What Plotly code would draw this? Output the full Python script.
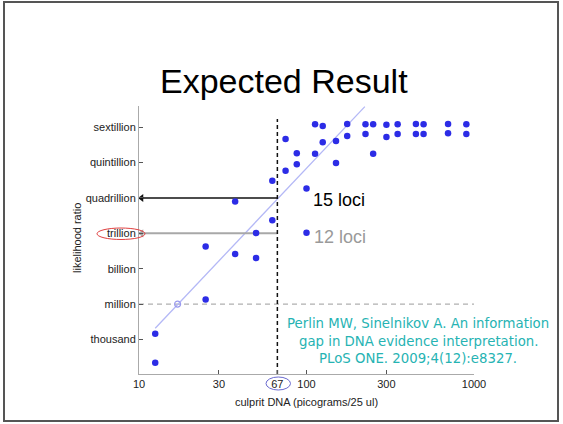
import plotly.graph_objects as go

# ---------------- data ----------------
dna_pg = [12.5, 12.5, 25, 25, 37.5, 37.5, 50, 50, 62.5, 62.5, 75, 75, 87.5, 87.5,
          100, 100, 112.5, 112.5, 125, 125, 150, 150, 175, 175, 225, 225, 250, 250,
          300, 300, 350, 350, 450, 450, 500, 500, 700, 700, 900, 900]
lr_log10 = [3.48, 1.03, 6.39, 10.88, 14.69, 10.24, 12.02, 9.90, 13.10, 16.45,
            20.01, 17.30, 18.80, 17.86, 15.80, 12.04, 21.25, 18.74, 21.11, 19.73,
            19.84, 17.97, 21.28, 20.26, 21.25, 20.43, 21.25, 18.74, 21.22, 20.18,
            21.25, 20.43, 21.28, 20.43, 21.25, 20.43, 21.28, 20.49, 21.25, 20.43]

fit_x = [12.5, 223]
fit_log10 = [3.95, 22.75]
cross_x = [17.0]
cross_log10 = [6.0]

threshold_x = 67
loci15_log10 = 15
loci12_log10 = 12
million_log10 = 6

x_tick_vals = [10, 30, 67, 100, 300, 1000]
x_tick_text = ["10", "30", "67", "100", "300", "1000"]
y_tick_exp = [3, 6, 9, 12, 15, 18, 21]
y_tick_text = ["thousand", "million", "billion", "trillion", "quadrillion",
               "quintillion", "sextillion"]

x_range_log = [1, 3]
y_range_log = [0.07, 22.8]

# ---------------- figure ----------------
W, H = 563, 424
L, R, T, B = 139, 89, 106, 50
pw, ph = W - L - R, H - T - B


def px(xp):
    return (xp - L) / pw


def py(yp):
    return (H - B - yp) / ph


def p10(v):
    return 10.0 ** v


FONT = "Liberation Sans, Arial, Helvetica, sans-serif"
CITE_FONT = "DejaVu Sans, Verdana, sans-serif"

fig = go.Figure()

# million dashed line
fig.add_trace(go.Scatter(x=[10, 1000], y=[p10(million_log10)] * 2, mode="lines",
                         line=dict(color="#b0b0b0", width=1.2, dash="5px,4px"),
                         hoverinfo="skip", showlegend=False))

# regression line
fig.add_trace(go.Scatter(x=fit_x, y=[p10(v) for v in fit_log10], mode="lines",
                         line=dict(color="#b4b8f6", width=1.3),
                         hoverinfo="skip", showlegend=False, cliponaxis=False))

# 12 loci gray line with arrow
fig.add_trace(go.Scatter(x=[10, threshold_x], y=[p10(loci12_log10)] * 2, mode="lines",
                         line=dict(color="#a8a8a8", width=2),
                         hoverinfo="skip", showlegend=False))
fig.add_trace(go.Scatter(x=[10.35], y=[p10(loci12_log10)], mode="markers",
                         marker=dict(symbol="triangle-left", size=7, color="#a8a8a8"),
                         hoverinfo="skip", showlegend=False, cliponaxis=False))

# 15 loci black line with arrow
fig.add_trace(go.Scatter(x=[10, threshold_x], y=[p10(loci15_log10)] * 2, mode="lines",
                         line=dict(color="#111111", width=1.4),
                         hoverinfo="skip", showlegend=False))
fig.add_trace(go.Scatter(x=[10.35], y=[p10(loci15_log10)], mode="markers",
                         marker=dict(symbol="triangle-left", size=7, color="#111111"),
                         hoverinfo="skip", showlegend=False, cliponaxis=False))

# vertical threshold line
fig.add_trace(go.Scatter(x=[threshold_x, threshold_x], y=[p10(0.07), p10(21.7)],
                         mode="lines",
                         line=dict(color="#111111", width=1.5, dash="4px,3px"),
                         hoverinfo="skip", showlegend=False))

# open circle at crossing
fig.add_trace(go.Scatter(x=cross_x, y=[p10(v) for v in cross_log10], mode="markers",
                         marker=dict(symbol="circle-open", size=6, color="#9a9aee",
                                     line=dict(width=1.2)),
                         hoverinfo="skip", showlegend=False))

# data points
fig.add_trace(go.Scatter(x=dna_pg, y=[p10(v) for v in lr_log10], mode="markers",
                         marker=dict(color="#2c2ce6", size=6.5),
                         showlegend=False, cliponaxis=False))

fig.update_xaxes(type="log", range=x_range_log, tickvals=x_tick_vals,
                 ticktext=x_tick_text, ticks="inside", ticklen=4,
                 tickcolor="#555", showline=True, linecolor="#aaaaaa",
                 linewidth=1, showgrid=False, zeroline=False,
                 tickfont=dict(family=FONT, size=11, color="#222"), mirror=False)
fig.update_yaxes(type="log", range=y_range_log,
                 tickvals=[p10(e) for e in y_tick_exp], ticktext=y_tick_text,
                 ticks="inside", ticklen=4, tickcolor="#555", showline=True,
                 linecolor="#aaaaaa", linewidth=1, showgrid=False, zeroline=False,
                 tickfont=dict(family=FONT, size=11, color="#222"))

ann = []
ann.append(dict(text="Expected Result", x=px(284), y=py(81), xref="paper", yref="paper",
                showarrow=False, xanchor="center", yanchor="middle",
                font=dict(family=FONT, size=34, color="#000")))
ann.append(dict(text="culprit DNA (picograms/25 ul)", x=0.5, y=py(402), xref="paper",
                yref="paper", showarrow=False, xanchor="center", yanchor="middle",
                font=dict(family=FONT, size=11, color="#222")))
ann.append(dict(text="likelihood ratio", x=px(77), y=py(238), xref="paper",
                yref="paper", showarrow=False, textangle=-90, xanchor="center",
                yanchor="middle", font=dict(family=FONT, size=11, color="#222")))
ann.append(dict(text="15 loci", x=px(311), y=py(200), xref="paper", yref="paper",
                showarrow=False, xanchor="left", yanchor="middle",
                font=dict(family=FONT, size=18, color="#000")))
ann.append(dict(text="12 loci", x=px(312), y=py(237), xref="paper", yref="paper",
                showarrow=False, xanchor="left", yanchor="middle",
                font=dict(family=FONT, size=18, color="#9a9a9a")))
cite = ["Perlin MW, Sinelnikov A. An information",
        "gap in DNA evidence interpretation.",
        "PLoS ONE. 2009;4(12):e8327."]
cite_y = [323, 341, 358]
for line, yy in zip(cite, cite_y):
    ann.append(dict(text=line, x=px(418), y=py(yy), xref="paper", yref="paper",
                    showarrow=False, xanchor="center", yanchor="middle",
                    font=dict(family=CITE_FONT, size=13.3, color="#26b3b3")))

shapes = [
    # slide frame
    dict(type="rect", xref="paper", yref="paper", x0=px(4), x1=px(558),
         y0=py(421), y1=py(2), line=dict(color="#555", width=2)),
    # red ellipse around trillion
    dict(type="circle", xref="paper", yref="paper", x0=px(97), x1=px(145),
         y0=py(239.5), y1=py(228), line=dict(color="#e04040", width=1)),
    # blue ellipse around 67
    dict(type="circle", xref="paper", yref="paper", x0=px(266), x1=px(290.5),
         y0=py(390), y1=py(377), line=dict(color="#6a6ad0", width=1)),
]

fig.update_layout(width=W, height=H, margin=dict(l=L, r=R, t=T, b=B, autoexpand=False),
                  paper_bgcolor="white", plot_bgcolor="white",
                  annotations=ann, shapes=shapes, showlegend=False,
                  font=dict(family=FONT))

fig.write_html("out.html", config={"displayModeBar": False},
               post_script="document.body.style.margin='0';document.body.style.overflow='hidden';")
